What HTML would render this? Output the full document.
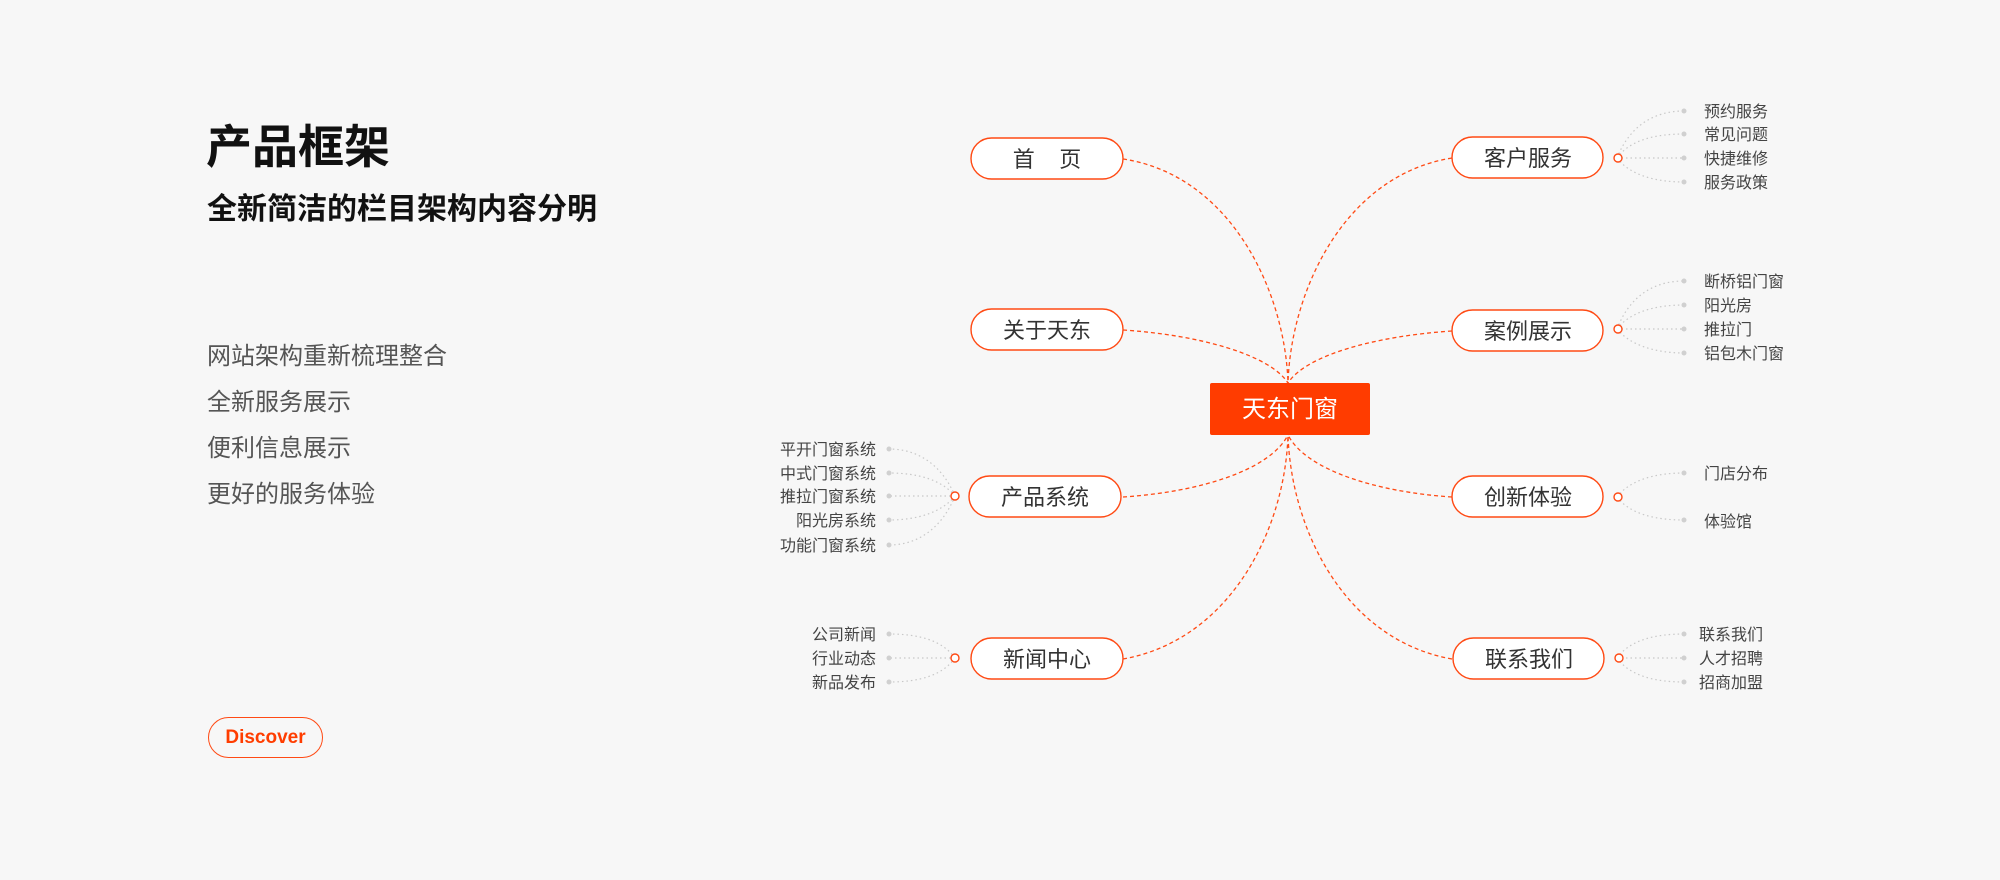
<!DOCTYPE html>
<html><head><meta charset="utf-8"><style>
html,body{margin:0;padding:0;background:#f7f7f7;}
body{width:2000px;height:880px;overflow:hidden;position:relative;font-family:"Liberation Sans","Noto Sans CJK SC",sans-serif;}
.t{position:absolute;white-space:nowrap;}
</style></head><body>
<div class="t" style="left:206px;top:117px;font-size:46px;font-weight:bold;color:#111;line-height:60px;">产品框架</div>
<div class="t" style="left:207px;top:190px;font-size:30px;font-weight:bold;color:#111;line-height:40px;">全新简洁的栏目架构内容分明</div>
<div class="t" style="left:207px;top:334px;font-size:24px;color:#555;line-height:46px;">网站架构重新梳理整合<br>全新服务展示<br>便利信息展示<br>更好的服务体验</div>
<div class="t" style="left:208px;top:717px;width:113px;height:39px;border:1.3px solid #ff4a14;border-radius:21px;text-align:center;line-height:39px;font-size:19px;font-weight:bold;color:#ff3d00;">Discover</div>

<svg width="2000" height="880" style="position:absolute;left:0;top:0" xmlns="http://www.w3.org/2000/svg">
<g fill="none" stroke="#ff4a14" stroke-width="1.3" stroke-dasharray="4,3">
<path d="M1123,159 C1230,175 1285,290 1288,383"/>
<path d="M1123,330 C1200,335 1270,355 1288,383"/>
<path d="M1123,497 C1200,492 1270,470 1288,435"/>
<path d="M1123,659 C1230,640 1285,530 1288,435"/>
<path d="M1452,158 C1345,175 1291,290 1288,383"/>
<path d="M1452,331 C1376,336 1306,355 1288,383"/>
<path d="M1452,497 C1376,492 1306,470 1288,435"/>
<path d="M1452,659 C1345,640 1291,530 1288,435"/>
</g>
<g fill="none" stroke="#c8c8c8" stroke-width="1.2" stroke-dasharray="1.5,3">
<path d="M1617,158 C1630,125 1655,111 1684,111"/>
<path d="M1617,158 C1630,140 1655,134 1684,134"/>
<path d="M1617,158 L1684,158"/>
<path d="M1617,158 C1630,175 1655,182 1684,182"/>
<path d="M1617,329 C1630,295 1655,281 1684,281"/>
<path d="M1617,329 C1630,312 1655,305 1684,305"/>
<path d="M1617,329 L1684,329"/>
<path d="M1617,329 C1630,345 1655,353 1684,353"/>
<path d="M1617,497 C1630,480 1655,473 1684,473"/>
<path d="M1617,497 C1630,514 1655,520 1684,520"/>
<path d="M1617,658 C1630,640 1655,634 1684,634"/>
<path d="M1617,658 L1684,658"/>
<path d="M1617,658 C1630,676 1655,682 1684,682"/>
<path d="M955,496 C942,465 918,449 889,449"/>
<path d="M955,496 C942,480 918,473 889,473"/>
<path d="M955,496 L889,496"/>
<path d="M955,496 C942,512 918,520 889,520"/>
<path d="M955,496 C942,528 918,545 889,545"/>
<path d="M955,658 C942,640 918,634 889,634"/>
<path d="M955,658 L889,658"/>
<path d="M955,658 C942,676 918,682 889,682"/>
</g>
<g fill="#d0d0d0">
<circle cx="1684" cy="111" r="2.5"/><circle cx="1684" cy="134" r="2.5"/><circle cx="1684" cy="158" r="2.5"/><circle cx="1684" cy="182" r="2.5"/>
<circle cx="1684" cy="281" r="2.5"/><circle cx="1684" cy="305" r="2.5"/><circle cx="1684" cy="329" r="2.5"/><circle cx="1684" cy="353" r="2.5"/>
<circle cx="1684" cy="473" r="2.5"/><circle cx="1684" cy="520" r="2.5"/>
<circle cx="1684" cy="634" r="2.5"/><circle cx="1684" cy="658" r="2.5"/><circle cx="1684" cy="682" r="2.5"/>
<circle cx="889" cy="449" r="2.5"/><circle cx="889" cy="473" r="2.5"/><circle cx="889" cy="496" r="2.5"/><circle cx="889" cy="520" r="2.5"/><circle cx="889" cy="545" r="2.5"/>
<circle cx="889" cy="634" r="2.5"/><circle cx="889" cy="658" r="2.5"/><circle cx="889" cy="682" r="2.5"/>
</g>
<g fill="#fff" stroke="#ff4a14" stroke-width="1.4">
<circle cx="1618" cy="158" r="4"/><circle cx="1618" cy="329" r="4"/><circle cx="1618" cy="497" r="4"/><circle cx="1619" cy="658" r="4"/>
<circle cx="955" cy="496" r="4"/><circle cx="955" cy="658" r="4"/>
<rect x="971" y="138" width="152" height="41" rx="20.5"/>
<rect x="971" y="309" width="152" height="41" rx="20.5"/>
<rect x="969" y="476" width="152" height="41" rx="20.5"/>
<rect x="971" y="638" width="152" height="41" rx="20.5"/>
<rect x="1452" y="137" width="151" height="41" rx="20.5"/>
<rect x="1452" y="310" width="151" height="41" rx="20.5"/>
<rect x="1452" y="476" width="151" height="41" rx="20.5"/>
<rect x="1453" y="638" width="151" height="41" rx="20.5"/>
</g>
<rect x="1210" y="383" width="160" height="52" rx="2" fill="#ff3c00"/>
<g font-family="Liberation Sans, Noto Sans CJK SC, sans-serif" font-size="22" fill="#333" text-anchor="middle">
<text x="1047" y="167" xml:space="preserve">首    页</text>
<text x="1047" y="338">关于天东</text>
<text x="1045" y="505">产品系统</text>
<text x="1047" y="667">新闻中心</text>
<text x="1528" y="166">客户服务</text>
<text x="1528" y="339">案例展示</text>
<text x="1528" y="505">创新体验</text>
<text x="1529" y="667">联系我们</text>
<text x="1290" y="417" fill="#fff" font-size="24">天东门窗</text>
</g>
<g font-family="Liberation Sans, Noto Sans CJK SC, sans-serif" font-size="16" fill="#444">
<text x="1704" y="117">预约服务</text>
<text x="1704" y="140">常见问题</text>
<text x="1704" y="164">快捷维修</text>
<text x="1704" y="188">服务政策</text>
<text x="1704" y="287">断桥铝门窗</text>
<text x="1704" y="311">阳光房</text>
<text x="1704" y="335">推拉门</text>
<text x="1704" y="359">铝包木门窗</text>
<text x="1704" y="479">门店分布</text>
<text x="1704" y="527">体验馆</text>
<text x="1699" y="640">联系我们</text>
<text x="1699" y="664">人才招聘</text>
<text x="1699" y="688">招商加盟</text>
<g text-anchor="end">
<text x="876" y="455">平开门窗系统</text>
<text x="876" y="479">中式门窗系统</text>
<text x="876" y="502">推拉门窗系统</text>
<text x="876" y="526">阳光房系统</text>
<text x="876" y="551">功能门窗系统</text>
<text x="876" y="640">公司新闻</text>
<text x="876" y="664">行业动态</text>
<text x="876" y="688">新品发布</text>
</g>
</g>
</svg>
</body></html>
